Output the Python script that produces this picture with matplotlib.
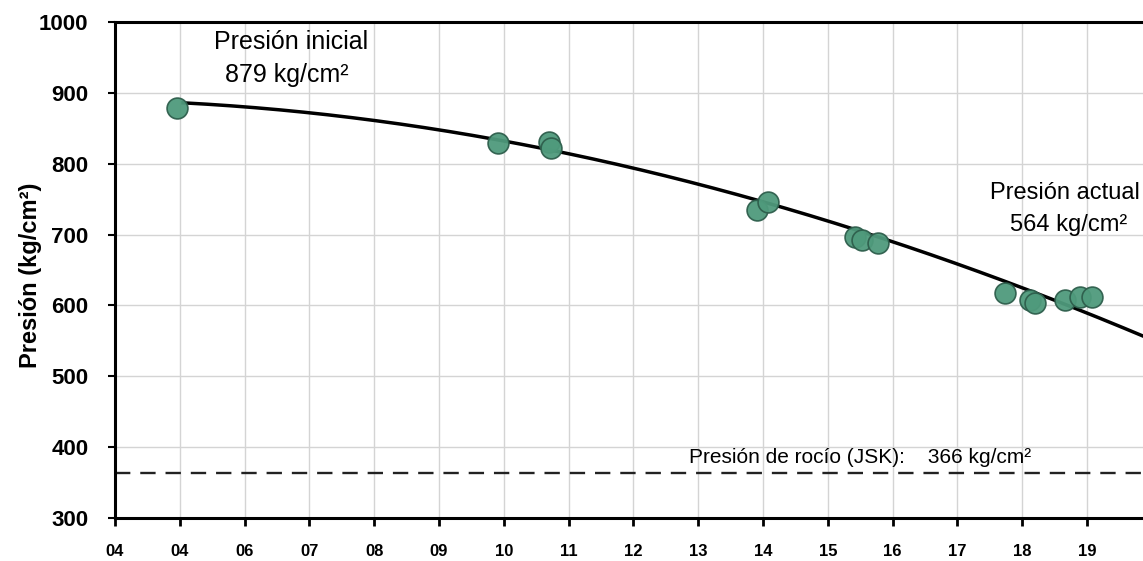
import matplotlib
matplotlib.use("Agg")
import matplotlib.pyplot as plt
import numpy as np

# ---- data (x in tick-index units) ----
tick_labels = ["04", "04", "06", "07", "08", "09", "10", "11", "12",
               "13", "14", "15", "16", "17", "18", "19"]
y_ticks = [300, 400, 500, 600, 700, 800, 900, 1000]

meas_x = [0.96, 5.91, 6.70, 6.73, 9.90, 10.08, 11.42, 11.52, 11.78,
          13.73, 14.12, 14.20, 14.66, 14.89, 15.07]
meas_y = [879, 829, 830, 822, 735, 746, 697, 693, 688,
          618, 607, 604, 607, 612, 612]

trend_x = [1.05, 4.40, 7.48, 9.03, 10.57, 12.11, 15.86]
trend_y = [887.5, 850, 811, 772, 730, 683, 558]

dew_pressure = 364

font = ["Liberation Sans", "DejaVu Sans"]

fig = plt.figure(figsize=(11.43, 5.61), dpi=100)
ax = fig.add_axes([115 / 1143, 1 - 518 / 561, 1 - 115 / 1143, (518 - 22) / 561])

ax.set_xlim(0, 15.864)
ax.set_ylim(300, 1000)

ax.set_xticks(range(len(tick_labels)))
ax.set_xticklabels(tick_labels, fontsize=12, fontweight="bold", family=font)
ax.set_yticks(y_ticks)
ax.set_yticklabels([str(v) for v in y_ticks], fontsize=16, fontweight="bold", family=font)

ax.grid(True, color="#d4d4d4", linewidth=1.0)
ax.set_axisbelow(True)

for side in ["left", "bottom", "top"]:
    ax.spines[side].set_linewidth(2.2)
    ax.spines[side].set_color("black")
ax.spines["right"].set_visible(False)

ax.tick_params(axis="x", direction="out", length=6, width=2, pad=13)
ax.tick_params(axis="y", direction="out", length=5, width=1.5, pad=14)

# trend curve
coef = np.polyfit(trend_x, trend_y, 3)
xs = np.linspace(trend_x[0], trend_x[-1], 200)
ax.plot(xs, np.polyval(coef, xs), color="black", linewidth=2.5, zorder=3)

# measured points
ax.plot(meas_x, meas_y, linestyle="none", marker="o", markersize=15,
        markerfacecolor="#4f9a7c", markeredgecolor="#2e5e4c",
        markeredgewidth=1.2, alpha=0.95, zorder=4)

# dew pressure line
ax.axhline(dew_pressure, color="#222222", linewidth=1.7, dashes=(6.5, 4.2), zorder=2)

ax.set_ylabel("Presión (kg/cm²)", fontsize=17, fontweight="bold", family=font)
ax.yaxis.set_label_coords(-0.071, 0.49)

ax.text(2.72, 972, "Presión inicial", fontsize=18, family=font,
        ha="center", va="center")
ax.text(2.65, 925, "879 kg/cm²", fontsize=18, family=font,
        ha="center", va="center")
ax.text(14.66, 759, "Presión actual", fontsize=17, family=font,
        ha="center", va="center")
ax.text(14.72, 713, "564 kg/cm²", fontsize=17, family=font,
        ha="center", va="center")
ax.text(11.5, 386, "Presión de rocío (JSK):    366 kg/cm²", fontsize=15,
        family=font, ha="center", va="center")

fig.savefig("out.png", dpi=100)
